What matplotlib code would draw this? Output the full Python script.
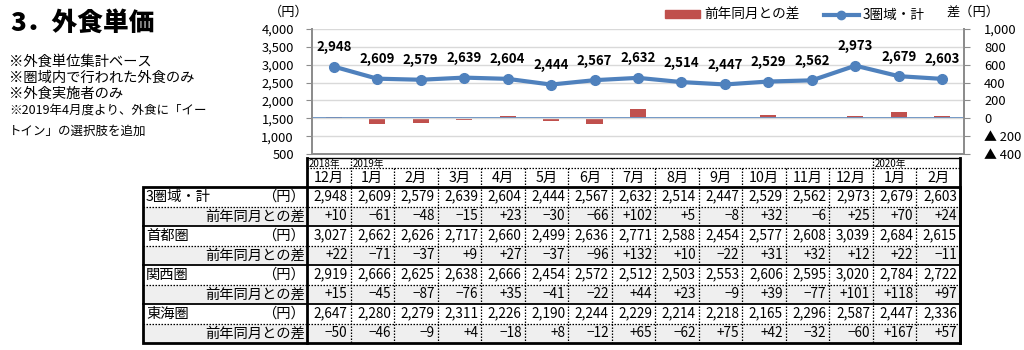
import matplotlib
matplotlib.use("Agg")
import matplotlib.pyplot as plt
from matplotlib.patches import Rectangle
from matplotlib.lines import Line2D
import numpy as np

plt.rcParams['font.family'] = ['Noto Sans CJK JP', 'DejaVu Sans']

# --- data -------------------------------------------------------------
months = ['12月', '1月', '2月', '3月', '4月', '5月', '6月', '7月', '8月',
          '9月', '10月', '11月', '12月', '1月', '2月']
year_marks = [(0, '2018年'), (1, '2019年'), (13, '2020年')]

total = [2948, 2609, 2579, 2639, 2604, 2444, 2567, 2632, 2514, 2447, 2529, 2562, 2973, 2679, 2603]
total_diff = [10, -61, -48, -15, 23, -30, -66, 102, 5, -8, 32, -6, 25, 70, 24]
shutoken = [3027, 2662, 2626, 2717, 2660, 2499, 2636, 2771, 2588, 2454, 2577, 2608, 3039, 2684, 2615]
shutoken_diff = [22, -71, -37, 9, 27, -37, -96, 132, 10, -22, 31, 32, 12, 22, -11]
kansai = [2919, 2666, 2625, 2638, 2666, 2454, 2572, 2512, 2503, 2553, 2606, 2595, 3020, 2784, 2722]
kansai_diff = [15, -45, -87, -76, 35, -41, -22, 44, 23, -9, 39, -77, 101, 118, 97]
tokai = [2647, 2280, 2279, 2311, 2226, 2190, 2244, 2229, 2214, 2218, 2165, 2296, 2587, 2447, 2336]
tokai_diff = [-50, -46, -9, 4, -18, 8, -12, 65, -62, 75, 42, -32, -60, 167, 57]

regions = [('3圏域・計', total, total_diff),
           ('首都圏', shutoken, shutoken_diff),
           ('関西圏', kansai, kansai_diff),
           ('東海圏', tokai, tokai_diff)]

notes = ['※外食単位集計ベース', '※圏域内で行われた外食のみ', '※外食実施者のみ']
notes_small = ['※2019年4月度より、外食に「イー', 'トイン」の選択肢を追加']

BLUE = '#4F81BD'
RED = '#C0504D'
GRID = '#D9D9D9'
AXIS = '#8C8C8C'
DOTS = (0, (1.2, 1.2))

W, H = 1024, 350
fig = plt.figure(figsize=(W / 100, H / 100), dpi=100)


def fx(px):
    return px / W


def fy(py):
    return 1 - py / H


# --- title and notes --------------------------------------------------
fig.text(fx(10), fy(23), '3．外食単価', fontsize=18.5, fontweight='heavy', va='center')
for i, s in enumerate(notes):
    fig.text(fx(9), fy(62 + 16 * i), s, fontsize=10.3, va='center')
fig.text(fx(9), fy(110), notes_small[0], fontsize=9, va='center')
fig.text(fx(9), fy(131), notes_small[1], fontsize=9, va='center')

# --- chart --------------------------------------------------------------
ax_l, ax_r, ax_t, ax_b = 312, 964, 29, 154
ax = fig.add_axes([fx(ax_l), fy(ax_b), (ax_r - ax_l) / W, (ax_b - ax_t) / H])
ax2 = ax.twinx()
x = np.arange(len(months))

ax.set_xlim(-0.5, len(months) - 0.5)
ax.set_ylim(500, 4000)
ax.set_yticks(np.arange(500, 4001, 500))
ax.set_yticklabels([f'{v:,}' for v in range(500, 4001, 500)])
ax.yaxis.grid(True, color=GRID, lw=1)
ax.set_axisbelow(True)
ax.set_xticks([])

ax2.set_ylim(-400, 1000)
ax2.set_yticks(np.arange(-400, 1001, 200))
ax2.set_yticklabels([f'▲ {-v}' if v < 0 else f'{v:,}' for v in range(-400, 1001, 200)])

ax2.bar(x, total_diff, width=0.37, color=RED, zorder=2)
ax2.axhline(0, color=BLUE, lw=1.3, zorder=3)

ax.set_zorder(ax2.get_zorder() + 1)
ax.patch.set_visible(False)
ax.plot(x, total, color=BLUE, lw=3, marker='o', ms=7, zorder=4)
for xi, v in zip(x, total):
    ax.annotate(f'{v:,}', (xi, v), xytext=(0, 14), textcoords='offset points',
                ha='center', va='center', fontsize=9.5, fontweight='bold')

for a in (ax, ax2):
    a.spines['top'].set_visible(False)
    for side in ('left', 'right', 'bottom'):
        a.spines[side].set_color(AXIS)
        a.spines[side].set_linewidth(1.3)
ax.tick_params(axis='y', direction='out', length=4, color=AXIS, labelsize=9.3, pad=9)
ax2.tick_params(axis='y', direction='out', length=4, color=AXIS, labelsize=9.3, pad=10.5)
for lab in ax2.get_yticklabels():
    lab.set_ha('left')

fig.text(fx(289), fy(12), '（円）', fontsize=9.5, ha='center', va='center')
fig.text(fx(973), fy(12), '差（円）', fontsize=9.5, ha='center', va='center')

handles = [Rectangle((0, 0), 1, 1, color=RED),
           Line2D([], [], color=BLUE, lw=3, marker='o', ms=6)]
fig.legend(handles, ['前年同月との差', '3圏域・計'], loc='center left',
           bbox_to_anchor=(fx(665), fy(15)), ncol=2, frameon=False, fontsize=9.8,
           handlelength=2.6, handleheight=0.5, handletextpad=0.25, columnspacing=1.8,
           borderpad=0, borderaxespad=0)

# --- table ------------------------------------------------------------
tab = fig.add_axes([0, 0, 1, 1])
tab.set_xlim(0, W)
tab.set_ylim(H, 0)
tab.axis('off')

t_left, c_left, t_right = 143, 307, 960
col_w = (t_right - c_left) / len(months)
h_top, h_mid, h_bot = 158, 168, 187
row_h = 19.5
n_rows = 2 * len(regions)
t_bot = h_bot + n_rows * row_h
num_size = 9.8

for r in range(n_rows):
    y0 = h_bot + r * row_h
    if r % 2 == 1:
        tab.add_patch(Rectangle((t_left, y0), t_right - t_left, row_h,
                                facecolor='#EFEFEF', edgecolor='none'))
    if r < n_rows - 1:
        y1 = y0 + row_h
        if r % 2 == 0:
            tab.plot([t_left, t_right], [y1, y1], color='k', lw=0.9, ls=DOTS)
        else:
            tab.plot([t_left, t_right], [y1, y1], color='k', lw=1.3)

# column separators; the year row is only split where the year changes
year_starts = [k for k, _ in year_marks]
for k in range(1, len(months)):
    xs = c_left + k * col_w
    y_start = h_top if k in year_starts else h_mid
    tab.plot([xs, xs], [y_start, t_bot], color='k', lw=0.9, ls=DOTS)

# header frame and outer border
tab.plot([c_left, t_right], [h_top, h_top], color='k', lw=1)
tab.plot([c_left, t_right], [h_mid, h_mid], color='k', lw=0.9, ls=DOTS)
tab.plot([c_left, c_left], [h_top, t_bot], color='k', lw=2)
tab.plot([t_right, t_right], [h_top, t_bot], color='k', lw=2)
tab.add_patch(Rectangle((t_left, h_bot), t_right - t_left, t_bot - h_bot,
                        facecolor='none', edgecolor='k', lw=2))

for k, s in year_marks:
    tab.text(c_left + k * col_w + 2, (h_top + h_mid) / 2 + 1, s, fontsize=7,
             ha='left', va='center')
for k, s in enumerate(months):
    tab.text(c_left + (k + 0.5) * col_w, (h_mid + h_bot) / 2, s, fontsize=10.3,
             ha='center', va='center')


def fmt_diff(v):
    return f'{v:+d}'.replace('-', '−')


for i, (name, vals, diffs) in enumerate(regions):
    yc = h_bot + (2 * i + 0.5) * row_h
    yd = yc + row_h
    tab.text(t_left + 3, yc, name, fontsize=10.3, ha='left', va='center')
    tab.text(c_left - 2, yc, '（円）', fontsize=10.3, ha='right', va='center')
    tab.text(c_left - 2, yd, '前年同月との差', fontsize=10.3, ha='right', va='center')
    for k in range(len(months)):
        xr = c_left + (k + 1) * col_w - 3
        tab.text(xr, yc, f'{vals[k]:,}', fontsize=num_size, ha='right', va='center')
        tab.text(xr, yd, fmt_diff(diffs[k]), fontsize=num_size, ha='right', va='center')

fig.savefig('out.png', dpi=100)
